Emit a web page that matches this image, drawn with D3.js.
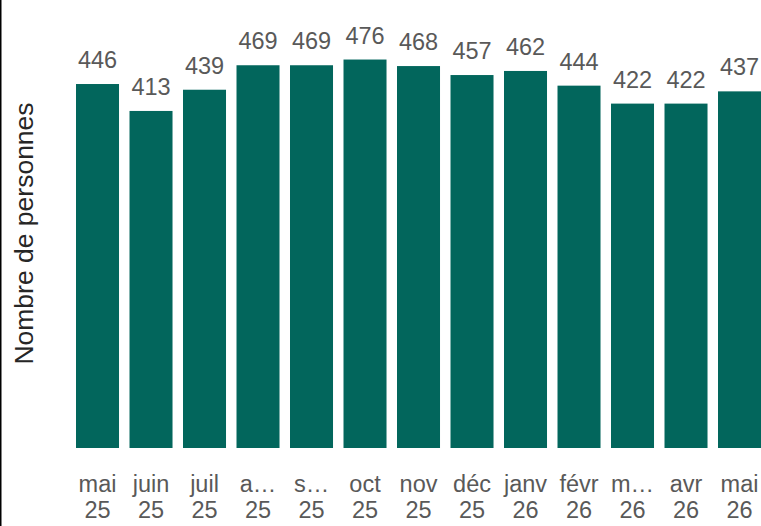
<!DOCTYPE html>
<html><head><meta charset="utf-8">
<script src="https://cdn.jsdelivr.net/npm/d3@7"></script>
<style>html,body{margin:0;padding:0;background:#fff;overflow:hidden}</style>
</head><body>
<svg id="c" width="761" height="526"></svg>
<script>
const months = ["mai","juin","juil","a…","s…","oct","nov","déc","janv","févr","m…","avr","mai"];
const years = ["25","25","25","25","25","25","25","25","26","26","26","26","26"];
const values = [446,413,439,469,469,476,468,457,462,444,422,422,437];
const yTitle = "Nombre de personnes";

const svg = d3.select("#c");
const ids = months.map((m,i)=>i);
const x = d3.scaleBand().domain(ids).range([70.76, 766.26]).paddingInner(0.196).paddingOuter(0.098);
const y = d3.scaleLinear().domain([0, 476]).range([448, 448 - 476*0.8161]);

svg.append("rect").attr("x",0).attr("y",0).attr("width",1.5).attr("height",526).attr("fill","#000");

svg.selectAll("rect.bar").data(values).join("rect").attr("class","bar")
  .attr("x",(d,i)=>x(i)).attr("width",x.bandwidth())
  .attr("y",d=>y(d)).attr("height",d=>y(0)-y(d)).attr("fill","#02665C");

svg.selectAll("text.val").data(values).join("text").attr("class","val")
  .attr("x",(d,i)=>x(i)+x.bandwidth()/2).attr("y",d=>y(d)-16)
  .attr("text-anchor","middle").attr("font-family","Liberation Sans, Arial, sans-serif")
  .attr("font-size",23.5).attr("fill","#595959").text(d=>d);

const tl = svg.selectAll("text.tick").data(ids).join("text").attr("class","tick")
  .attr("text-anchor","middle").attr("font-family","Liberation Sans, Arial, sans-serif")
  .attr("font-size",23.5).attr("fill","#595959");
tl.append("tspan").attr("x",i=>x(i)+x.bandwidth()/2).attr("y",492).text(i=>months[i]);
tl.append("tspan").attr("x",i=>x(i)+x.bandwidth()/2).attr("y",518).text(i=>years[i]);

svg.append("text").attr("transform","translate(33,233.5) rotate(-90)")
  .attr("text-anchor","middle").attr("font-family","Liberation Sans, Arial, sans-serif")
  .attr("font-size",26.5).attr("fill","#262626").text(yTitle);
</script>
</body></html>
